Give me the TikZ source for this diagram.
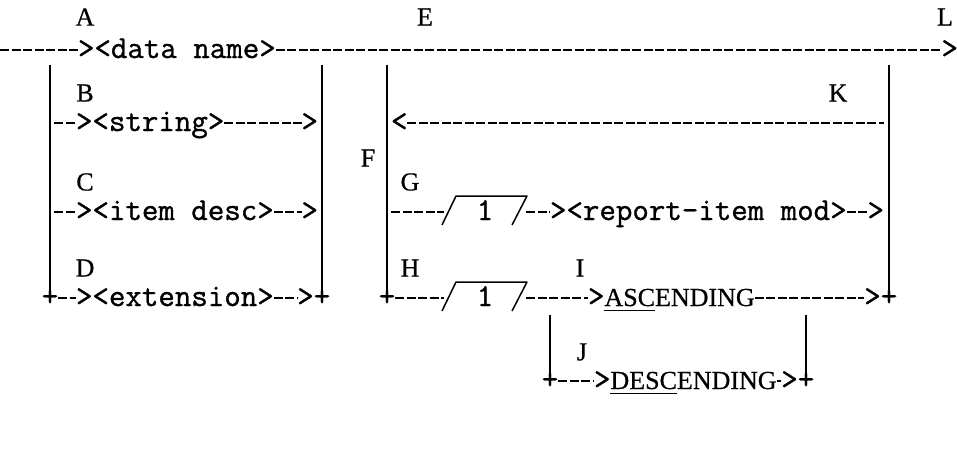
\documentclass[tikz,border=0pt]{standalone}
\usepackage{fontspec}
\usetikzlibrary{calc}
\newfontfamily\twfont{Latin Modern Mono}[FakeBold=1]
\newfontfamily\rmfont{Liberation Serif}[FakeBold=0.6]
\newcommand\tw{\twfont\fontsize{32}{35}\selectfont}
\newcommand\rmlab{\rmfont\fontsize{26}{29}\selectfont}
\newcommand\rmword{\rmfont\fontsize{26}{29}\selectfont}
% underline drawn a little below the baseline
\newcommand\uline[1]{\setbox0=\hbox{#1}\rlap{\rule[-5pt]{\wd0}{1.5pt}}\box0}
% slashes with overbar around a repeat count
\newcommand\repeatmark[1]{%
  \draw[slash] ($(#1.west)+(-2,13)$) -- ($(#1.west)+(12,-16)$)
     -- ($(#1.east)+(1,-16)$) -- ($(#1.east)+(-14,13)$);}
\begin{document}
\begin{tikzpicture}[x=1pt, y=-1pt,
  txt/.style={font=\tw, inner sep=0pt, outer sep=0pt, text height=16pt, text depth=0pt},
  word/.style={font=\rmword, inner sep=0pt, outer sep=0pt, text height=16pt, text depth=0pt},
  caplab/.style={font=\rmlab, inner sep=0pt, outer sep=0pt},
  dl/.style={line width=1.6pt, dash pattern=on 9pt off 2.5pt},
  vbar/.style={line width=1.5pt},
  slash/.style={line width=1.5pt, line join=round}]
\useasboundingbox (0,0) rectangle (957,450);

% top labels
\node[caplab] (A) at (85,17) {A};
\node[caplab] (E) at (425,17) {E};
\node[caplab] (L) at (945,17) {L};

% main line
\coordinate (m0) at (0,50);
\node[txt, anchor=west] (dn) at (78,50) {><data name>};
\node[txt, anchor=east] (mL) at (958,50) {>};
\draw[dl] (m0) -- (dn.west);
\draw[dl] (dn.east) -- (mL.west);

% first group of alternatives
\coordinate (la) at (50,65);
\coordinate (ra) at (322,65);
\node[txt] (pD) at (50,298) {+};
\node[txt] (pDr) at (322,298) {+};
\draw[vbar] (la) -- (pD.north);
\draw[vbar] (ra) -- (pDr.north);

\node[caplab] (B) at (85,93) {B};
\coordinate (b0) at (54,123);
\node[txt, anchor=west] (bs) at (76,123) {><string>};
\node[txt, anchor=east] (be) at (318,123) {>};
\draw[dl] (b0) -- (bs.west);
\draw[dl] (bs.east) -- (be.west);

\node[caplab] (C) at (85,182) {C};
\coordinate (c0) at (54,212);
\node[txt, anchor=west] (cs) at (76,212) {><item desc>};
\node[txt, anchor=east] (ce) at (318,212) {>};
\draw[dl] (c0) -- (cs.west);
\draw[dl] (cs.east) -- (ce.west);

\node[caplab] (D) at (85,268) {D};
\node[txt, anchor=west] (ds) at (76,298) {><extension>};
\node[txt, anchor=east] (de) at (pDr.west) {>};
\draw[dl] (pD.east) -- (ds.west);
\draw[dl] (ds.east) -- (de.west);

% second group: repeated report items
\node[caplab] (F) at (368,158) {F};
\coordinate (lb) at (387,65);
\coordinate (rb) at (889,65);
\node[txt] (pH) at (387,298) {+};
\node[txt] (pHr) at (889,298) {+};
\draw[vbar] (lb) -- (pH.north);
\draw[vbar] (rb) -- (pHr.north);

\node[caplab] (K) at (838,93) {K};
\node[txt, anchor=west] (ka) at (391,123) {<};
\coordinate (k1) at (884,123);
\draw[dl] (ka.east) -- (k1);

\node[caplab] (G) at (410,182) {G};
\coordinate (g0) at (391,212);
\node[txt, anchor=west, minimum width=82pt] (g1) at (444,212) {1};
\node[txt, anchor=west] (gr) at (550,212) {><report-item mod>};
\node[txt, anchor=east] (ge) at (884,212) {>};
\draw[dl] (g0) -- (g1.west);
\draw[dl] (g1.east) -- (gr.west);
\draw[dl] (gr.east) -- (ge.west);
\repeatmark{g1}

\node[caplab] (H) at (410,268) {H};
\node[txt, anchor=west, minimum width=82pt] (h1) at (444,298) {1};
\node[txt, anchor=west] (ha) at (588,298) {>};
\node[word, anchor=west] (asc) at (ha.east) {\uline{ASC}ENDING};
\node[txt, anchor=east] (he) at (pHr.west) {>};
\draw[dl] (pH.east) -- (h1.west);
\draw[dl] (h1.east) -- (ha.west);
\draw[dl] (asc.east) -- (he.west);
\repeatmark{h1}

% sort order choice
\node[caplab] (I) at (580,268) {I};
\coordinate (fa) at (550,315);
\coordinate (fb) at (806,315);
\node[txt] (pJ) at (550,381) {+};
\node[txt] (pJr) at (806,381) {+};
\draw[vbar] (fa) -- (pJ.north);
\draw[vbar] (fb) -- (pJr.north);

\node[caplab] (J) at (582,352) {J};
\node[txt, anchor=west] (ja) at (594,381) {>};
\node[word, anchor=west] (desc) at (ja.east) {\uline{DESC}ENDING};
\node[txt, anchor=east] (je) at (pJr.west) {>};
\draw[dl] (pJ.east) -- (ja.west);
\draw[dl] (desc.east) -- (je.west);
\end{tikzpicture}
\end{document}
